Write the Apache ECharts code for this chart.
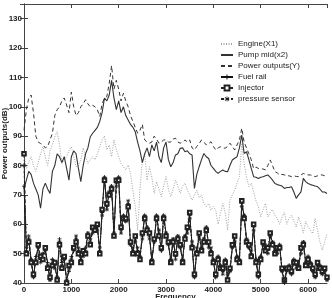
<!DOCTYPE html>
<html>
<head>
    <meta charset="UTF-8">
    <title>ECharts</title>
    <script src="https://cdn.jsdelivr.net/npm/echarts@6/dist/echarts.min.js"></script>
    <style>body{margin:0;background:#fff;} #main{width:332px;height:298px;}</style>
</head>
<body>
<div id="main"></div>
<script>
    // 频率轴 0-6400, 每 50Hz 一个点
    var freq = [];
    for (var f = 0; f <= 6400; f += 50) freq.push(f);

    var yTicks = [40, 50, 60, 70, 80, 90, 100, 110, 120, 130];
    var xTicks = [0, 1000, 2000, 3000, 4000, 5000, 6000];

    var engine = [
        84, 79, 81, 83, 80, 78, 81, 84, 86.4, 83,
        80, 85, 87, 89.8, 91.5, 87, 80.7, 82, 83, 85,
        86.4, 83, 79.6, 80, 81.9, 86, 83, 80.7, 82, 83,
        82, 84, 86.4, 88.7, 90, 85.3, 87, 83, 88.7, 85.3,
        83, 80.7, 79.6, 78.5, 80.2, 77.3, 71.6, 66, 58, 72,
        82, 84.1, 75, 79.6, 76, 70.5, 74.5, 72, 69.4, 73,
        76.2, 72, 69.4, 72, 75, 73, 70.5, 73, 74, 71.6,
        70, 68.2, 70, 71.6, 69, 70, 67.1, 66, 67, 64.8,
        66, 64.8, 60, 63.7, 67.1, 64, 58, 68.2, 70, 71.6,
        74, 76.2, 87.6, 80.7, 76, 72.8, 74, 71.1, 68, 66,
        62.5, 65, 67.1, 62.5, 64, 65, 63, 62, 60, 62.5,
        64, 60, 62, 63.1, 61, 59.1, 62.5, 60, 57, 61,
        59.1, 58, 56.8, 62, 58, 54, 51.2, 54, 56.8
    ];
    var pumpMid = [
        72, 75, 78, 77, 74, 72, 70, 65.5, 72, 74,
        72, 70.5, 78, 80, 84, 83, 81, 83, 79, 75,
        83, 85, 84, 79, 74.5, 80, 84, 86, 89.8, 91,
        92, 93, 95, 98, 103, 102, 104, 109, 103, 99,
        102, 98, 100, 97, 95.5, 94, 93, 91.5, 88, 85,
        81, 84, 86, 83, 87, 85, 88, 83, 81, 86,
        88, 82, 79.6, 81, 83.6, 84, 85.9, 86, 84.7, 85,
        84, 83.6, 72.2, 77, 79.6, 82, 84.1, 83, 82.4, 80,
        79, 78, 77.3, 78, 78.5, 78, 77.9, 80, 81.9, 82.5,
        83, 86, 90.4, 84.1, 84.7, 82, 79, 76.2, 76, 75.6,
        76, 76.2, 76.5, 76.8, 76, 75, 73.9, 73.5, 73.3, 73,
        72.2, 72.5, 72.5, 72.8, 71, 68.8, 70, 71, 75.6, 74.5,
        73.9, 73.5, 73.3, 73, 72.8, 72, 71, 71, 70.5
    ];
    var powerOut = [
        92, 99, 103, 104, 98, 90, 88, 87.5, 87, 86,
        86.5, 88.7, 91, 97, 99, 100, 102, 103, 100.6, 98,
        105, 100, 97, 98, 100, 101, 102.4, 101, 100, 100.5,
        100, 99, 96.7, 101, 103, 103.5, 108, 114, 106, 109,
        106, 102, 104.6, 102, 100, 97, 95, 93, 91, 92,
        94, 88.7, 88, 87.6, 88, 90, 89, 87.6, 88, 88.7,
        88.7, 88, 88, 89, 89.3, 88, 87.6, 88, 88.7, 88,
        88.7, 86, 85.3, 86.5, 87.5, 88.7, 88, 87, 87.5, 88.1,
        86.5, 85.3, 86, 86.4, 86, 85.9, 86.5, 87.6, 86.5, 85.3,
        87, 88.7, 92.7, 88, 86, 84, 82, 79, 79.5, 79,
        79, 78.8, 78.5, 80, 81.9, 80, 77.9, 77.5, 76.8, 77,
        76.8, 76.5, 76.5, 76.2, 76.5, 76.3, 76.2, 76.8, 77.3, 77,
        76.8, 76.8, 76.5, 76.2, 76.5, 76.8, 76.8, 76.5, 76.2
    ];
    var fuelRail = [
        73, 51, 55, 48, 42, 49, 52, 48, 50, 51,
        47, 41, 48, 46, 42, 55, 47, 48, 41, 44,
        49, 51, 55, 51, 48, 50, 51, 57, 55, 58,
        59, 59, 51, 64, 76, 66, 71, 73, 57, 74,
        76, 58, 63, 61, 67, 53, 51, 55, 51, 49,
        56, 63, 59, 56, 48, 54, 63, 57, 51, 63,
        57, 53, 48, 55, 49, 56, 52, 48, 56, 58,
        63, 53, 42, 51, 56, 52, 55, 59, 53, 51,
        48, 42, 49, 46, 44, 48, 42, 44, 52, 55,
        49, 48, 67, 63, 55, 52, 50, 59, 48, 42,
        49, 53, 52, 51, 56, 54, 51, 51, 53, 44,
        40, 44, 46, 43, 48, 46, 46, 51, 54, 47,
        49, 47, 44, 42, 46, 46, 43, 44, 41
    ];
    var injector = [
        84, 50, 54, 47, 43, 47, 53, 49, 48, 52,
        45, 42, 46, 47, 41, 53, 45, 49, 40, 46,
        47, 52, 54, 50, 47, 51, 50, 56, 53, 59,
        58, 60, 50, 65, 75, 67, 70, 72, 56, 75,
        75, 59, 62, 62, 66, 54, 50, 56, 50, 48,
        57, 62, 58, 57, 47, 55, 62, 56, 52, 62,
        56, 54, 47, 54, 50, 55, 53, 47, 55, 59,
        64, 52, 43, 50, 57, 51, 54, 58, 54, 50,
        47, 43, 48, 45, 45, 47, 41, 45, 53, 56,
        48, 47, 68, 62, 54, 53, 49, 60, 47, 43,
        48, 54, 51, 52, 57, 53, 50, 52, 52, 45,
        41, 45, 45, 44, 47, 47, 45, 52, 53, 46,
        48, 46, 45, 43, 47, 45, 44, 45, 42
    ];
    var pressureSensor = [
        80, 52, 56, 48, 42, 48, 52, 47, 50, 51,
        46, 41, 48, 45, 42, 54, 46, 48, 41, 45,
        48, 51, 56, 52, 49, 49, 52, 57, 54, 57,
        59, 58, 52, 63, 76, 65, 71, 73, 57, 73,
        76, 57, 63, 61, 68, 53, 52, 54, 52, 49,
        55, 63, 59, 55, 48, 54, 63, 58, 51, 63,
        57, 53, 48, 55, 48, 56, 52, 48, 56, 57,
        62, 54, 42, 52, 55, 52, 55, 59, 52, 52,
        48, 42, 49, 46, 43, 48, 43, 44, 52, 54,
        49, 48, 66, 63, 55, 52, 51, 58, 48, 42,
        49, 53, 53, 50, 56, 54, 51, 50, 53, 44,
        41, 44, 46, 43, 48, 45, 46, 50, 54, 47,
        49, 47, 44, 42, 45, 46, 43, 44, 41
    ];

    function pairs(vals) {
        var out = [];
        for (var i = 0; i < vals.length; i++) out.push([freq[i], vals[i]]);
        return out;
    }

    var plusIcon = 'path://M2,0H3V2H5V3H3V5H2V3H0V2H2Z';
    var starIcon = 'path://M2.1,0H2.9V2.1L4.4,0.6L4.9,1.1L3.4,2.5H5V3.3H3.4L4.9,4.7L4.4,5.2L2.9,3.7V5.8H2.1V3.7L0.6,5.2L0.1,4.7L1.6,3.3H0V2.5H1.6L0.1,1.1L0.6,0.6L2.1,2.1Z';

    var font = 'Liberation Sans, Arial, sans-serif';
    var axisCol = '#444';

    var myChart = echarts.init(document.getElementById('main'), null, {renderer: 'canvas'});
    var option = {
        animation: false,
        backgroundColor: '#fff',
        grid: {left: 24, right: 5, top: 4, bottom: 15, outerBoundsMode: 'none', containLabel: false},
        legend: {
            orient: 'vertical',
            left: 215,
            top: 35,
            itemWidth: 12,
            itemHeight: 6,
            itemGap: 3,
            textStyle: {fontFamily: font, fontSize: 8, color: '#222'},
            data: [
                {name: 'Engine(X1)', itemStyle: {opacity: 0}},
                {name: 'Pump mid(x2)', itemStyle: {opacity: 0}},
                {name: 'Power outputs(Y)', itemStyle: {opacity: 0}},
                'Fuel rail',
                {name: 'Injector', itemStyle: {borderWidth: 1}},
                'pressure sensor'
            ]
        },
        xAxis: [{
            type: 'value',
            min: 0, max: 6400, interval: 1000,
            name: 'Frequency',
            nameLocation: 'middle',
            nameGap: 10,
            nameMoveOverlap: false,
            nameTextStyle: {fontFamily: font, fontSize: 8, fontWeight: 'bold', color: '#222'},
            axisLine: {lineStyle: {color: axisCol}},
            axisTick: {inside: true, length: 4, lineStyle: {color: axisCol}},
            axisLabel: {
                fontFamily: font, fontSize: 8, fontWeight: 'bold', color: '#222', margin: 3,
                showMaxLabel: false,
                formatter: function (v) { return xTicks.indexOf(v) >= 0 ? String(v) : ''; }
            },
            splitLine: {show: false}
        }, {
            type: 'value',
            position: 'top',
            min: 0, max: 6400, interval: 1000,
            axisLine: {lineStyle: {color: axisCol}},
            axisTick: {inside: true, length: 4, lineStyle: {color: axisCol}},
            axisLabel: {show: false},
            splitLine: {show: false}
        }],
        yAxis: [{
            type: 'value',
            min: 40, max: 135, interval: 10,
            name: 'Power outputs(dB)',
            nameLocation: 'middle',
            nameGap: 15,
            nameRotate: 90,
            nameMoveOverlap: false,
            nameTextStyle: {fontFamily: font, fontSize: 8, fontWeight: 'bold', color: '#222'},
            axisLine: {lineStyle: {color: axisCol}},
            axisTick: {inside: true, length: 4, lineStyle: {color: axisCol}},
            axisLabel: {
                fontFamily: font, fontSize: 8, fontWeight: 'bold', color: '#222', margin: 2,
                showMaxLabel: false,
                formatter: function (v) { return yTicks.indexOf(v) >= 0 ? String(v) : ''; }
            },
            splitLine: {show: false}
        }, {
            type: 'value',
            position: 'right',
            min: 40, max: 135, interval: 10,
            axisLine: {lineStyle: {color: axisCol}},
            axisTick: {inside: true, length: 4, lineStyle: {color: axisCol}},
            axisLabel: {show: false},
            splitLine: {show: false}
        }],
        series: [
            {
                name: 'Engine(X1)', type: 'line', data: pairs(engine),
                symbol: 'none',
                lineStyle: {color: '#a0a0a0', width: 1, type: [1, 1.5]},
                itemStyle: {color: '#a0a0a0'}
            },
            {
                name: 'Pump mid(x2)', type: 'line', data: pairs(pumpMid),
                symbol: 'none',
                lineStyle: {color: '#333', width: 1.1, type: 'solid'},
                itemStyle: {color: '#333'}
            },
            {
                name: 'Power outputs(Y)', type: 'line', data: pairs(powerOut),
                symbol: 'none',
                lineStyle: {color: '#333', width: 1, type: [4, 3]},
                itemStyle: {color: '#333'}
            },
            {
                name: 'Fuel rail', type: 'line', data: pairs(fuelRail),
                symbol: plusIcon, symbolSize: 4,
                lineStyle: {color: '#111', width: 1},
                itemStyle: {color: '#111', borderWidth: 0}
            },
            {
                name: 'Injector', type: 'line', data: pairs(injector),
                symbol: 'emptyRect', symbolSize: 3.5,
                lineStyle: {color: '#222', width: 1, type: [4, 2, 1, 2]},
                itemStyle: {color: '#222', borderColor: '#222', borderWidth: 0.7}
            },
            {
                name: 'pressure sensor', type: 'line', data: pairs(pressureSensor),
                symbol: starIcon, symbolSize: 4,
                lineStyle: {color: '#222', width: 1, type: [3, 2]},
                itemStyle: {color: '#222', borderWidth: 0}
            }
        ]
    };
    myChart.setOption(option);
</script>
</body>
</html>
